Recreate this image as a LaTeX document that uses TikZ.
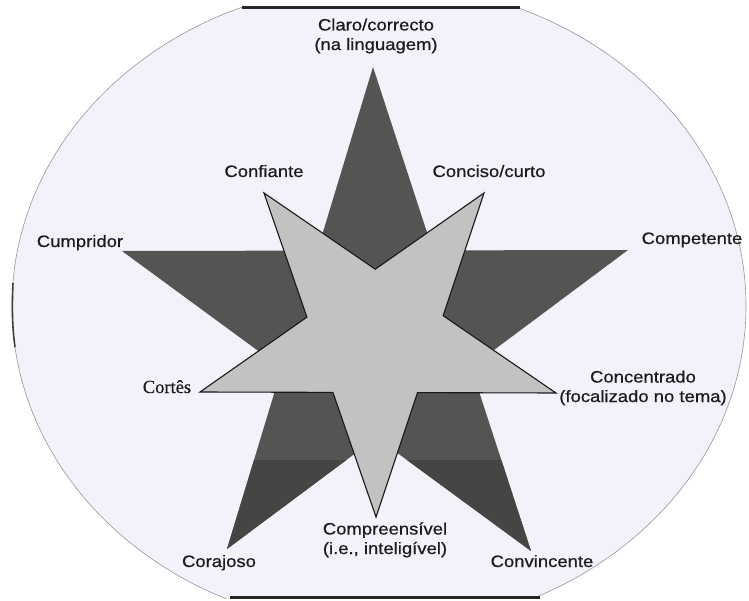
\documentclass[tikz,border=0pt]{standalone}
\usepackage{fontspec}
\setmainfont{Liberation Sans}[FakeStretch=1.12, FakeBold=0.6]
\newfontfamily\cortesfont{Liberation Serif}[FakeBold=0.5]
\definecolor{bgell}{RGB}{241,242,250}
\definecolor{ellline}{RGB}{150,150,160}
\definecolor{darkstar}{RGB}{86,84,82}
\definecolor{darkband}{RGB}{70,69,68}
\definecolor{lightstar}{RGB}{194,194,194}
\definecolor{txt}{RGB}{28,28,28}
\begin{document}
\begin{tikzpicture}[x=1pt,y=-1pt,
  lbl/.style={font=\fontsize{16.5}{19.5}\selectfont, text=txt, align=center, anchor=base, inner sep=0pt},
  serlbl/.style={font=\cortesfont\fontsize{18.5}{20}\selectfont, text=txt, anchor=base, inner sep=0pt},
  scanedge/.style={line width=3pt, color=black!85},
  lightstarstyle/.style={fill=lightstar, draw=black!90, line width=1.1pt, line join=miter}]
\useasboundingbox (0,0) rectangle (749,601);

% background ellipse, clipped at top and bottom
\begin{scope}
  \clip (0,7) rectangle (749,598);
  \fill[bgell] (379,306) ellipse [x radius=367, y radius=322];
  \draw[ellline, line width=0.6pt] (379,306) ellipse [x radius=367, y radius=322];
\end{scope}
\draw[scanedge] (242,8) -- (520,8);
\draw[scanedge] (230,597) -- (540,597);
\draw[line width=1.6pt, black!75] (13,283) .. controls (12,305) and (12,326) .. (15,347);

% dark star
\coordinate (dT)  at (373,67);
\coordinate (dR)  at (628,250);
\coordinate (dBR) at (531,551);
\coordinate (dBL) at (227,549);
\coordinate (dL)  at (122,251);
\coordinate (dI1) at (intersection of dT--dBR and dR--dL);
\coordinate (dI2) at (intersection of dR--dBL and dBR--dT);
\coordinate (dI3) at (intersection of dBR--dL and dBL--dR);
\coordinate (dI4) at (intersection of dBL--dT and dL--dBR);
\coordinate (dI5) at (intersection of dL--dR and dT--dBL);
\fill[darkstar] (dT) -- (dI1) -- (dR) -- (dI2) -- (dBR) -- (dI3) -- (dBL) -- (dI4) -- (dL) -- (dI5) -- cycle;
\begin{scope}
  \clip (dT) -- (dI1) -- (dR) -- (dI2) -- (dBR) -- (dI3) -- (dBL) -- (dI4) -- (dL) -- (dI5) -- cycle;
  \fill[darkband] (0,460) rectangle (749,601);
\end{scope}

% light star
\coordinate (lUL) at (264,193);
\coordinate (lUR) at (484,193);
\coordinate (lR)  at (556,393);
\coordinate (lB)  at (376,517);
\coordinate (lL)  at (200,392);
\coordinate (lI1) at (intersection of lUL--lR and lUR--lL);
\coordinate (lI2) at (intersection of lUR--lB and lR--lUL);
\coordinate (lI3) at (intersection of lR--lL and lB--lUR);
\coordinate (lI4) at (intersection of lB--lUL and lL--lR);
\coordinate (lI5) at (intersection of lL--lUR and lUL--lB);
\draw[lightstarstyle] (lUL) -- (lI1) -- (lUR) -- (lI2) -- (lR) -- (lI3) -- (lB) -- (lI4) -- (lL) -- (lI5) -- cycle;

% labels (base anchor = baseline of the last line)
\node[lbl] (claro) at (376,50) {Claro/correcto\\(na linguagem)};
\node[lbl] (confiante) at (264,177) {Confiante};
\node[lbl] (conciso) at (489,177) {Conciso/curto};
\node[lbl] (cumpridor) at (80,247) {Cumpridor};
\node[lbl] (competente) at (692,244) {Competente};
\node[serlbl] (cortes) at (167,393) {Cortês};
\node[lbl] (concentrado) at (643,402) {Concentrado\\(focalizado no tema)};
\node[lbl] (compreensivel) at (385,554) {Compreensível\\(i.e., inteligível)};
\node[lbl] (corajoso) at (219,567) {Corajoso};
\node[lbl] (convincente) at (542,567) {Convincente};
\end{tikzpicture}
\end{document}
